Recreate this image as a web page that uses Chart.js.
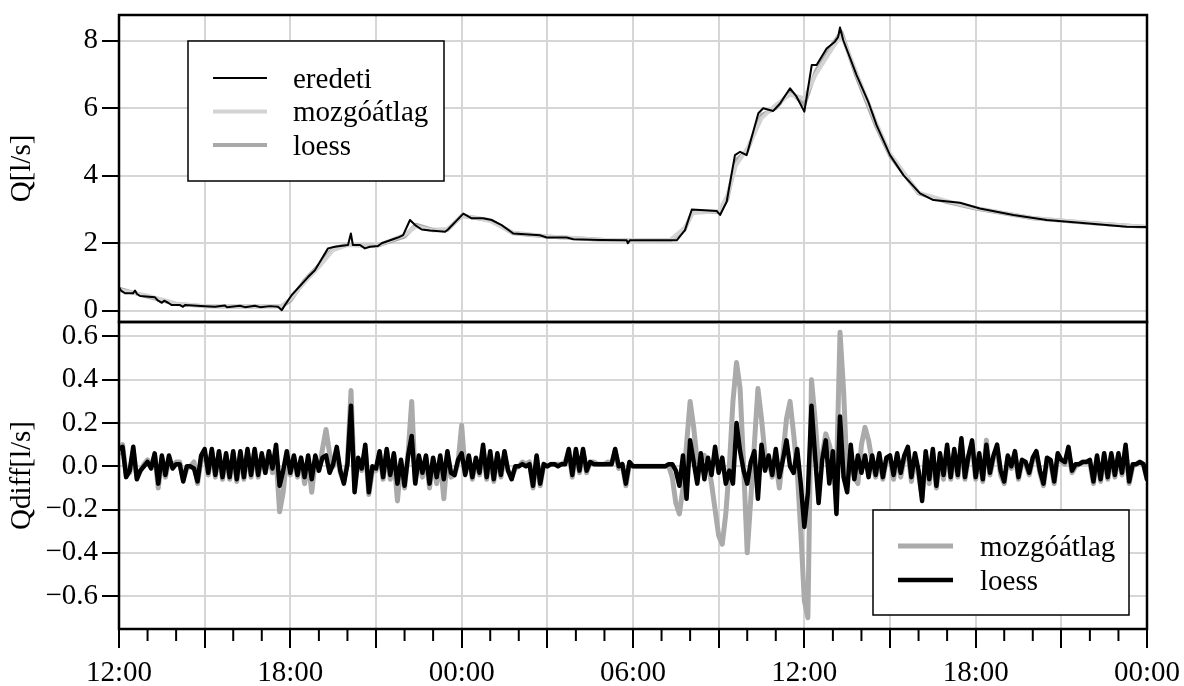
<!DOCTYPE html>
<html>
<head>
<meta charset="utf-8">
<script src="https://cdn.jsdelivr.net/npm/chart.js@4.4.1/dist/chart.umd.min.js"></script>
<style>
  body { margin: 0; background: #fff; }
  #wrap { position: relative; width: 1184px; height: 686px; }
  #topChart { position: absolute; left: 0; top: 0; }
  #bottomChart { position: absolute; left: 0; top: 320px; }
</style>
</head>
<body>
<div id="wrap">
  <canvas id="topChart" width="1184" height="324"></canvas>
  <canvas id="bottomChart" width="1184" height="366"></canvas>
</div>
<script>
// Idő órában 12:00-tól számítva (0 .. 36)
const xGridHours = [0, 3, 6, 9, 12, 15, 18, 21, 24, 27, 30, 33, 36];
const xMinorHours = [1, 2, 4, 5, 7, 8, 10, 11, 13, 14, 16, 17, 19, 20, 22, 23, 25, 26, 28, 29, 31, 32, 34, 35];
const qTicks = [0, 2, 4, 6, 8];
const qdiffTicks = [-0.6, -0.4, -0.2, 0, 0.2, 0.4, 0.6];

// Eredeti vízhozam (l/s)
const hoursQ = [0, 0.07, 0.21, 0.49, 0.56, 0.63, 0.74, 1.26, 1.37, 1.50, 1.58, 1.72, 1.85, 2.14, 2.24, 2.31,
  3.01, 3.36, 3.71, 3.78, 4.24, 4.41, 4.76, 4.94, 5.29, 5.57, 5.70, 5.81, 6.05, 6.62, 6.86, 7.32, 7.56,
  8.02, 8.12, 8.19, 8.44, 8.61, 8.79, 9.07, 9.20, 9.77, 9.95, 10.19, 10.37, 10.60, 10.89, 11.42, 11.52,
  12.06, 12.35, 12.75, 13.05, 13.40, 13.81, 14.74, 14.98, 15.68, 15.91, 16.84, 17.78, 17.82, 17.89,
  19.53, 19.82, 20.06, 20.93, 21.05, 21.28, 21.57, 21.75, 21.98, 22.39, 22.56, 22.91, 23.15, 23.50,
  23.73, 24.00, 24.26, 24.43, 24.78, 25.07, 25.18, 25.25, 25.36, 25.83, 26.24, 26.53, 27.00, 27.47,
  28.05, 28.52, 29.45, 30.15, 31.32, 32.49, 33.65, 35.29, 36.00];
const eredeti = [0.70, 0.60, 0.52, 0.52, 0.60, 0.50, 0.44, 0.40, 0.30, 0.24, 0.30, 0.24, 0.17, 0.17, 0.12, 0.17,
  0.14, 0.12, 0.16, 0.11, 0.15, 0.11, 0.15, 0.11, 0.14, 0.12, 0.02, 0.17, 0.47, 1.00, 1.20, 1.85, 1.90,
  1.95, 2.29, 1.95, 1.95, 1.85, 1.90, 1.92, 2.00, 2.17, 2.24, 2.69, 2.54, 2.41, 2.38, 2.34, 2.41,
  2.88, 2.74, 2.74, 2.69, 2.54, 2.29, 2.24, 2.17, 2.17, 2.12, 2.10, 2.09, 2.00, 2.09,
  2.09, 2.39, 3.00, 2.96, 2.84, 3.23, 4.61, 4.71, 4.61, 5.85, 6.00, 5.92, 6.14, 6.59,
  6.34, 5.90, 7.28, 7.28, 7.77, 7.97, 8.10, 8.39, 8.02, 6.98, 6.19, 5.50, 4.61, 4.02,
  3.48, 3.28, 3.20, 3.03, 2.84, 2.69, 2.61, 2.49, 2.48];

// Simított görbék
const hoursSmooth = [0, 1, 2, 3, 4, 5, 5.7, 6, 6.5, 7, 7.5, 8, 9, 10, 10.4, 11, 11.5, 12, 12.5, 13, 13.8, 15, 17,
  19.3, 19.8, 20.1, 21, 21.3, 21.6, 22, 22.5, 23, 23.5, 24, 24.4, 25, 25.3, 25.8, 26.5, 27, 28, 29, 30, 32, 34, 36];
const mozgoatlag = [0.62, 0.45, 0.22, 0.14, 0.13, 0.13, 0.15, 0.35, 0.85, 1.3, 1.8, 1.95, 1.92, 2.25, 2.5, 2.38,
  2.42, 2.8, 2.76, 2.66, 2.32, 2.2, 2.1, 2.1, 2.45, 2.9, 2.95, 3.4, 4.3, 4.8, 5.7, 6.1, 6.4, 6.3, 7.0, 7.8,
  8.15, 7.1, 5.6, 4.65, 3.5, 3.25, 3.05, 2.75, 2.6, 2.48];
const loess = [0.66, 0.42, 0.2, 0.14, 0.13, 0.13, 0.14, 0.3, 0.9, 1.35, 1.85, 1.96, 1.92, 2.2, 2.55, 2.4,
  2.4, 2.82, 2.75, 2.68, 2.3, 2.2, 2.1, 2.09, 2.4, 2.95, 2.93, 3.3, 4.45, 4.75, 5.8, 6.0, 6.5, 6.1, 7.1, 7.9,
  8.25, 7.0, 5.5, 4.6, 3.48, 3.22, 3.03, 2.74, 2.6, 2.48];

// Eltérések 7,5 percenként (soronként 3 óra)
const diffStep = 0.125;
const mozgoDiff = [
  0.06, 0.10, -0.04, -0.03, 0.07, -0.05, -0.02, 0.01, 0.03, 0.00, 0.05, -0.10, 0.03, -0.05, 0.03, 0.00, 0.02, 0.02, -0.06, -0.01, 0.00, 0.02, -0.08, 0.03,
  0.06, -0.04, 0.07, -0.05, 0.06, -0.06, 0.05, -0.06, 0.06, -0.07, 0.06, -0.06, 0.07, -0.05, 0.07, -0.05, 0.05, -0.03, 0.05, -0.03, 0.04, -0.21, -0.12, 0.04,
  -0.04, 0.04, -0.05, 0.03, -0.08, 0.02, -0.12, 0.03, -0.02, 0.08, 0.17, 0.06, 0.00, 0.07, -0.03, -0.07, 0.02, 0.35, -0.10, 0.03, -0.02, 0.08, -0.13, -0.02,
  -0.02, 0.06, -0.06, 0.07, -0.06, 0.05, -0.16, 0.02, -0.10, 0.06, 0.30, -0.07, 0.04, -0.05, 0.04, -0.10, 0.03, -0.08, 0.03, -0.15, 0.05, -0.05, -0.04, 0.02,
  0.19, -0.03, 0.04, -0.06, 0.03, -0.04, 0.08, -0.06, 0.05, -0.07, 0.05, -0.05, 0.05, -0.02, -0.05, -0.01, 0.00, 0.02, 0.01, 0.02, -0.10, 0.04, -0.09, 0.01,
  0.00, 0.01, 0.01, 0.01, 0.01, 0.02, 0.07, -0.05, 0.07, -0.03, 0.07, -0.03, 0.02, 0.02, 0.01, 0.01, 0.01, 0.02, 0.01, 0.07, -0.01, 0.01, -0.09, 0.01,
  0.00, 0.00, 0.00, 0.00, 0.00, 0.00, 0.00, 0.00, 0.00, 0.00, 0.00, -0.05, -0.17, -0.22, -0.10, 0.10, 0.30, 0.18, 0.02, 0.04, 0.05, 0.02, -0.08, -0.20,
  -0.32, -0.36, -0.22, 0.00, 0.30, 0.48, 0.36, 0.00, -0.40, -0.15, 0.10, 0.36, 0.22, 0.05, 0.03, -0.05, 0.02, -0.10, 0.05, 0.22, 0.30, 0.15, -0.02, -0.30,
  -0.62, -0.70, 0.40, 0.22, 0.00, 0.05, 0.15, 0.10, 0.03, -0.05, 0.62, 0.35, -0.05, 0.03, -0.05, -0.08, 0.10, 0.18, 0.12, 0.02, -0.05, 0.04, -0.06, 0.03,
  0.04, -0.06, 0.05, -0.05, 0.04, 0.07, -0.07, 0.04, -0.04, -0.14, 0.05, -0.08, 0.06, -0.10, 0.04, -0.06, 0.08, -0.06, 0.06, -0.05, 0.11, -0.06, 0.04, 0.10,
  -0.06, 0.05, -0.07, 0.12, -0.04, 0.04, 0.08, -0.04, -0.08, 0.04, -0.01, 0.06, -0.06, 0.02, 0.01, -0.04, 0.03, 0.06, -0.03, -0.09, 0.03, 0.02, -0.08, 0.05,
  0.02, 0.01, 0.07, -0.03, 0.00, 0.01, 0.02, 0.02, 0.02, -0.08, 0.04, -0.07, 0.05, -0.06, 0.05, -0.05, 0.05, -0.04, 0.08, -0.08, 0.00, 0.01, 0.02, 0.01,
  -0.06];
const loessDiff = [
  0.08, 0.09, -0.05, -0.02, 0.09, -0.06, -0.02, 0.00, 0.02, -0.01, 0.06, -0.08, 0.05, -0.04, 0.05, -0.01, 0.01, 0.01, -0.07, 0.00, 0.00, -0.01, -0.07, 0.05,
  0.08, -0.03, 0.08, -0.04, 0.07, -0.05, 0.06, -0.05, 0.07, -0.06, 0.07, -0.05, 0.08, -0.04, 0.08, -0.04, 0.06, -0.03, 0.07, -0.01, 0.10, -0.09, -0.02, 0.07,
  -0.03, 0.05, -0.04, 0.04, -0.05, 0.05, -0.06, 0.05, -0.02, 0.04, 0.05, -0.03, 0.01, 0.09, -0.02, -0.08, 0.01, 0.28, -0.12, 0.04, -0.01, 0.10, -0.12, 0.00,
  -0.01, 0.07, -0.05, 0.08, -0.04, 0.06, -0.08, 0.03, -0.09, 0.05, 0.14, -0.08, 0.05, -0.03, 0.05, -0.08, 0.04, -0.05, 0.05, -0.06, 0.07, -0.03, -0.04, 0.03,
  0.06, -0.04, 0.05, -0.05, 0.04, -0.03, 0.10, -0.05, 0.07, -0.06, 0.06, -0.04, 0.07, -0.02, -0.06, 0.00, 0.00, 0.01, 0.00, 0.01, -0.09, 0.05, -0.08, 0.01,
  0.00, 0.01, 0.01, 0.00, 0.01, 0.01, 0.08, -0.04, 0.08, -0.02, 0.08, -0.02, 0.02, 0.01, 0.01, 0.01, 0.01, 0.01, 0.01, 0.08, 0.00, 0.01, -0.08, 0.02,
  0.00, 0.00, 0.00, 0.00, 0.00, 0.00, 0.00, 0.00, 0.00, 0.00, 0.01, 0.01, -0.02, -0.09, 0.05, -0.15, 0.12, 0.02, -0.08, 0.06, -0.06, 0.04, -0.04, 0.09,
  -0.03, 0.04, -0.08, -0.02, -0.08, 0.20, 0.07, -0.02, -0.08, 0.02, 0.07, -0.15, 0.10, -0.02, 0.05, -0.04, 0.08, -0.05, 0.03, 0.12, 0.00, -0.03, 0.08, -0.08,
  -0.28, -0.12, 0.28, 0.05, -0.17, 0.03, 0.12, -0.08, 0.07, -0.22, 0.23, -0.05, -0.12, 0.10, -0.06, 0.05, -0.03, 0.05, -0.05, 0.05, -0.04, 0.06, -0.05, 0.04,
  0.05, -0.04, 0.06, -0.03, 0.05, 0.09, -0.05, 0.06, -0.02, -0.16, 0.07, -0.06, 0.08, -0.09, 0.06, -0.04, 0.10, -0.05, 0.08, -0.04, 0.13, -0.05, 0.05, 0.12,
  -0.05, 0.06, -0.06, 0.10, -0.03, 0.05, 0.10, -0.02, -0.07, 0.05, 0.00, 0.07, -0.05, 0.03, 0.02, -0.03, 0.04, 0.07, -0.02, -0.08, 0.04, 0.03, -0.07, 0.06,
  0.03, 0.02, 0.09, -0.02, 0.01, 0.01, 0.02, 0.02, 0.03, -0.07, 0.05, -0.06, 0.06, -0.05, 0.06, -0.04, 0.06, -0.03, 0.10, -0.07, 0.01, 0.01, 0.02, 0.01,
  -0.06];

const FONT = '"Liberation Serif", "Times New Roman", serif';
const FSIZE = 29;
const GRID = '#d6d6d6';
const fmtHour = h => String((12 + h) % 24).padStart(2, '0') + ':00';
const toPoints = (xs, ys) => ys.map((y, i) => ({ x: xs[i], y: y }));
const diffPoints = ys => ys.map((y, i) => ({ x: i * diffStep, y: y }));

// Keret és kis osztások
const framePlugin = {
  id: 'frame',
  afterDatasetsDraw(chart, args, opts) {
    const { ctx, chartArea: a } = chart;
    ctx.save();
    ctx.strokeStyle = '#000';
    ctx.lineWidth = 2.5;
    ctx.strokeRect(a.left, a.top, a.right - a.left, a.bottom - a.top);
    if (opts.minor) {
      const sx = chart.scales.x;
      ctx.lineWidth = 2;
      opts.minor.forEach(h => {
        const px = sx.getPixelForValue(h);
        ctx.beginPath();
        ctx.moveTo(px, a.bottom);
        ctx.lineTo(px, a.bottom + 12);
        ctx.stroke();
      });
    }
    ctx.restore();
  }
};

// Jelmagyarázat doboz a rajzterületen belül
const legendPlugin = {
  id: 'legendBox',
  afterDraw(chart, args, o) {
    const ctx = chart.ctx;
    ctx.save();
    ctx.fillStyle = '#fff';
    ctx.fillRect(o.x, o.y, o.w, o.h);
    ctx.strokeStyle = '#000';
    ctx.lineWidth = 1.5;
    ctx.strokeRect(o.x, o.y, o.w, o.h);
    ctx.font = FSIZE + 'px ' + FONT;
    ctx.textBaseline = 'middle';
    o.items.forEach((idx, i) => {
      const ds = chart.data.datasets[idx];
      const y = o.y + o.first + i * o.gap;
      ctx.strokeStyle = ds.borderColor;
      ctx.lineWidth = ds.borderWidth;
      ctx.beginPath();
      ctx.moveTo(o.lineX, y);
      ctx.lineTo(o.lineX + o.lineW, y);
      ctx.stroke();
      ctx.fillStyle = '#000';
      ctx.fillText(ds.label, o.textX, y + 2);
    });
    ctx.restore();
  }
};

function yScale(min, max, ticks, title, fmt) {
  return {
    min: min, max: max,
    afterBuildTicks: s => { s.ticks = ticks.map(v => ({ value: v })); },
    afterFit: s => { s.width = 119; s.paddingTop = 0; s.paddingBottom = 0; },
    ticks: { font: { family: FONT, size: FSIZE }, color: '#000', padding: 4, callback: fmt },
    grid: { color: GRID, lineWidth: 2, tickColor: '#000', tickLength: 17, tickWidth: 2 },
    border: { display: false },
    title: { display: true, text: title, color: '#000', font: { family: FONT, size: FSIZE }, padding: { top: 5 } }
  };
}

const lineBase = { pointRadius: 0, tension: 0, borderJoinStyle: 'round', borderCapStyle: 'round' };

new Chart(document.getElementById('topChart'), {
  type: 'line',
  data: {
    datasets: [
      Object.assign({ label: 'eredeti', data: toPoints(hoursQ, eredeti), borderColor: '#000', borderWidth: 2, order: 0 }, lineBase),
      Object.assign({ label: 'mozgóátlag', data: toPoints(hoursSmooth, mozgoatlag), borderColor: '#d3d3d3', borderWidth: 4, order: 1 }, lineBase),
      Object.assign({ label: 'loess', data: toPoints(hoursSmooth, loess), borderColor: '#a9a9a9', borderWidth: 4, order: 2 }, lineBase)
    ]
  },
  options: {
    responsive: false,
    animation: false,
    layout: { padding: { left: 0, right: 37, top: 15, bottom: 2 } },
    plugins: {
      legend: { display: false },
      tooltip: { enabled: false },
      frame: {},
      legendBox: { x: 188, y: 41, w: 256, h: 140, first: 37, gap: 33.5, lineX: 213, lineW: 54, textX: 293, items: [0, 1, 2] }
    },
    scales: {
      x: {
        type: 'linear', min: 0, max: 36,
        afterBuildTicks: s => { s.ticks = xGridHours.map(v => ({ value: v })); },
        afterFit: s => { s.height = 0; s.paddingLeft = 0; s.paddingRight = 0; },
        ticks: { display: false },
        grid: { color: GRID, lineWidth: 2, drawTicks: false },
        border: { display: false }
      },
      y: yScale(-0.33, 8.76, qTicks, 'Q[l/s]', v => String(v))
    }
  },
  plugins: [framePlugin, legendPlugin]
});

new Chart(document.getElementById('bottomChart'), {
  type: 'line',
  data: {
    datasets: [
      Object.assign({ label: 'mozgóátlag', data: diffPoints(mozgoDiff), borderColor: '#aaaaaa', borderWidth: 5, order: 1 }, lineBase),
      Object.assign({ label: 'loess', data: diffPoints(loessDiff), borderColor: '#000', borderWidth: 4.5, order: 0 }, lineBase)
    ]
  },
  options: {
    responsive: false,
    animation: false,
    layout: { padding: { left: 0, right: 37, top: 2, bottom: 0 } },
    plugins: {
      legend: { display: false },
      tooltip: { enabled: false },
      frame: { minor: xMinorHours },
      legendBox: { x: 873, y: 190, w: 256, h: 105, first: 36, gap: 34, lineX: 898, lineW: 55, textX: 980, items: [0, 1] }
    },
    scales: {
      x: {
        type: 'linear', min: 0, max: 36,
        afterBuildTicks: s => { s.ticks = xGridHours.map(v => ({ value: v })); },
        afterFit: s => { s.height = 57; s.paddingLeft = 0; s.paddingRight = 0; },
        ticks: {
          font: { family: FONT, size: FSIZE }, color: '#000', padding: 8, maxRotation: 0, autoSkip: false,
          callback: v => (v % 6 === 0 ? fmtHour(v) : '')
        },
        grid: { color: GRID, lineWidth: 2, tickColor: '#000', tickLength: 19, tickWidth: 2 },
        border: { display: false }
      },
      y: yScale(-0.752, 0.667, qdiffTicks, 'Qdiff[l/s]',
        v => (v < -1e-9 ? '\u2212' : '') + Math.abs(v).toFixed(1))
    }
  },
  plugins: [framePlugin, legendPlugin]
});
</script>
</body>
</html>
